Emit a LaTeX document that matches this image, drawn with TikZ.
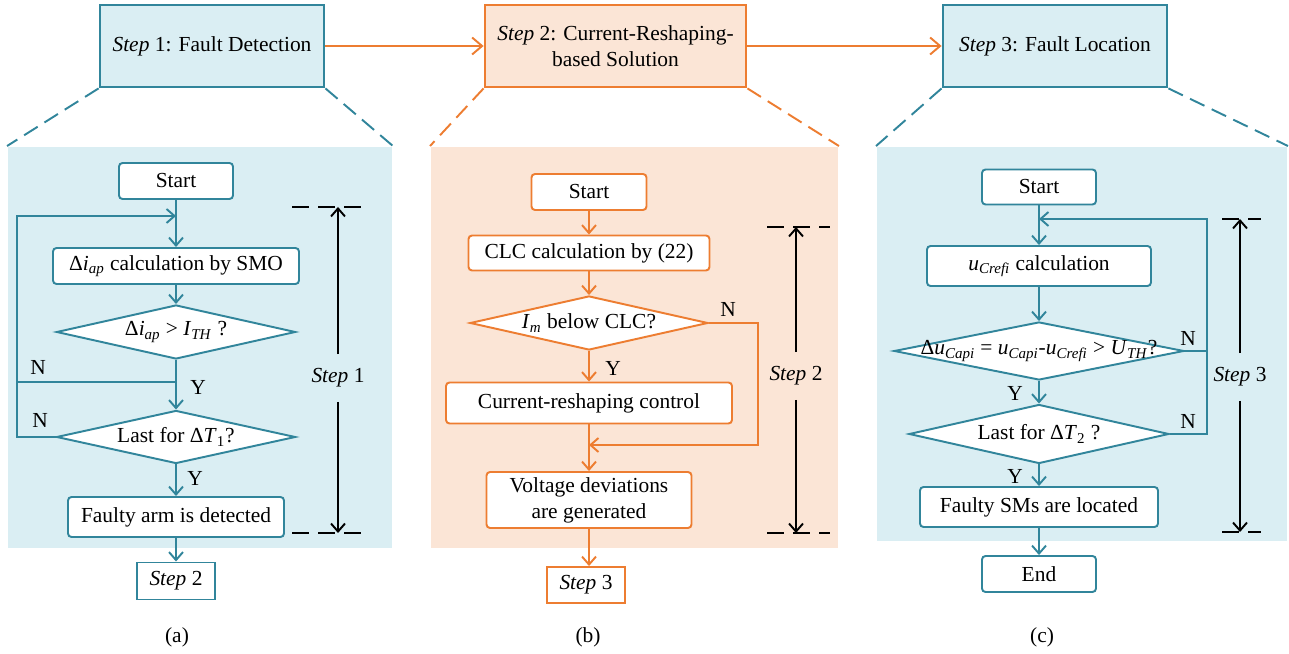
\documentclass[tikz,border=0pt]{standalone}
\usepackage{fontspec}
\setmainfont{Liberation Serif}
\usepackage{xcolor}
\usepackage{tikz}
\usetikzlibrary{arrows.meta, positioning, shapes.geometric, calc}

\definecolor{tealline}{RGB}{49,133,155}
\definecolor{tealfill}{RGB}{218,238,243}
\definecolor{orangeline}{RGB}{237,125,49}
\definecolor{orangefill}{RGB}{251,229,214}

\newcommand{\stp}[1]{\textit{Step} #1}
\newcommand{\vsub}[2]{\textit{#1}\textsubscript{\textit{#2}}}

\begin{document}
\begin{tikzpicture}[>={Straight Barb[length=1.6mm, width=2.8mm]},
  font=\fontsize{12.2}{14.8}\selectfont, line width=1.1pt,
  topbox/.style={draw=#1, line width=1.6pt, inner sep=0pt, align=center},
  panel/.style={inner sep=0pt, draw=none},
  proc/.style={draw=#1, fill=white, rounded corners=2pt, inner sep=0pt, align=center},
  nextstep/.style={draw=#1, fill=white, inner sep=0pt},
  decision/.style={diamond, draw=#1, fill=white, inner sep=0pt},
  flow/.style={#1, ->},
  zoomline/.style={#1, dash pattern=on 0.32cm off 0.16cm},
  span/.style={black, dash pattern=on 0.34cm off 0.18cm},
  tag/.style={inner sep=1pt}]
  \useasboundingbox (0,0) rectangle (25.78,13.08);

  % Step boxes on top
  \node[topbox=tealline, fill=tealfill, minimum width=4.48cm, minimum height=1.64cm] (s1) at (4.24,12.16) {\stp{1}: Fault Detection};
  \node[topbox=orangeline, fill=orangefill, minimum width=5.22cm, minimum height=1.64cm] (s2) at (12.31,12.16) {\stp{2}: Current-Reshaping-\\based Solution};
  \node[topbox=tealline, fill=tealfill, minimum width=4.48cm, minimum height=1.64cm] (s3) at (21.10,12.16) {\stp{3}: Fault Location};
  \draw[orangeline, -{Straight Barb[length=2mm, width=3.4mm]}] (s1) -- (s2);
  \draw[orangeline, -{Straight Barb[length=2mm, width=3.4mm]}] (s2) -- (s3);

  % Panels
  \node[panel, fill=tealfill, minimum width=7.68cm, minimum height=8.02cm] (pa) at (4.00,6.13) {};
  \node[panel, fill=orangefill, minimum width=8.14cm, minimum height=8.02cm] (pb) at (12.69,6.13) {};
  \node[panel, fill=tealfill, minimum width=8.20cm, minimum height=7.88cm] (pc) at (21.64,6.20) {};

  \draw[zoomline=tealline] (s1.south west) -- (pa.north west);
  \draw[zoomline=tealline] (s1.south east) -- (pa.north east);
  \draw[zoomline=orangeline] (s2.south west) -- (pb.north west);
  \draw[zoomline=orangeline] (s2.south east) -- (pb.north east);
  \draw[zoomline=tealline] (s3.south west) -- (pc.north west);
  \draw[zoomline=tealline] (s3.south east) -- (pc.north east);

  % (a) fault detection
  \node[proc=tealline, minimum width=2.28cm, minimum height=0.72cm] (a_start) at (3.52,9.46) {Start};
  \node[proc=tealline, minimum width=4.92cm, minimum height=0.72cm] (a_calc) at (3.52,7.76) {Δ\vsub{i}{ap} calculation by SMO};
  \node[decision=tealline, minimum width=4.78cm, minimum height=1.08cm,
        label=center:{Δ\vsub{i}{ap} > \vsub{I}{TH} ?}] (a_d1) at (3.52,6.44) {};
  \node[decision=tealline, minimum width=4.78cm, minimum height=1.06cm,
        label=center:{Last for Δ\textit{T}\textsubscript{1}?}] (a_d2) at (3.52,4.34) {};
  \node[proc=tealline, minimum width=4.32cm, minimum height=0.80cm] (a_det) at (3.52,2.74) {Faulty arm is detected};
  \node[nextstep=tealline, minimum width=1.56cm, minimum height=0.74cm] (a_next) at (3.52,1.46) {\stp{2}};
  \node (a_cap) at (3.54,0.34) {(a)};

  \coordinate (a_j1) at (3.52,5.44);
  \coordinate (a_j2) at (3.52,8.76);
  \coordinate (a_loop) at (0.34,8.76);

  \draw[flow=tealline] (a_start) -- (a_calc);
  \draw[flow=tealline] (a_calc) -- (a_d1);
  \draw[flow=tealline] (a_d1) -- (a_d2);
  \draw[flow=tealline] (a_d2) -- (a_det);
  \draw[flow=tealline] (a_det) -- (a_next);
  \draw[flow=tealline] (a_d2.west) -| (a_loop) -- (a_j2);
  \draw[tealline] (a_j1) -- (a_j1 -| a_loop);

  \node[tag] (a_n1) at (0.76,5.74) {N};
  \node[tag] (a_n2) at (0.80,4.68) {N};
  \node[tag] (a_y1) at (3.96,5.34) {Y};
  \node[tag] (a_y2) at (3.90,3.52) {Y};

  % span of step 1
  \node[minimum height=0.92cm, inner sep=0pt] (a_span) at (6.76,5.52) {\stp{1}};
  \coordinate (a_top) at (6.76,8.94);
  \coordinate (a_bot) at (6.76,2.42);
  \draw[span] (5.84,8.94) -- (7.38,8.94);
  \draw[span] (5.84,2.42) -- (7.38,2.42);
  \draw[->] (a_span) -- (a_top);
  \draw[->] (a_span) -- (a_bot);

  % (b) current reshaping
  \node[proc=orangeline, minimum width=2.30cm, minimum height=0.72cm] (b_start) at (11.78,9.24) {Start};
  \node[proc=orangeline, minimum width=4.82cm, minimum height=0.70cm] (b_clc) at (11.78,8.02) {CLC calculation by (22)};
  \node[decision=orangeline, minimum width=4.76cm, minimum height=1.08cm,
        label=center:{\textit{I}\textsubscript{\textit{m}} below CLC?}] (b_d) at (11.78,6.62) {};
  \node[proc=orangeline, minimum width=5.72cm, minimum height=0.82cm] (b_ctrl) at (11.78,5.02) {Current-reshaping control};
  \node[proc=orangeline, minimum width=4.10cm, minimum height=1.12cm] (b_volt) at (11.78,3.08) {Voltage deviations\\are generated};
  \node[nextstep=orangeline, minimum width=1.56cm, minimum height=0.72cm] (b_next) at (11.72,1.38) {\stp{3}};
  \node (b_cap) at (11.76,0.34) {(b)};

  \coordinate (b_j) at (11.78,4.18);
  \coordinate (b_side) at (15.16,4.18);

  \draw[flow=orangeline] (b_start) -- (b_clc);
  \draw[flow=orangeline] (b_clc) -- (b_d);
  \draw[flow=orangeline] (b_d) -- (b_ctrl);
  \draw[flow=orangeline] (b_ctrl) -- (b_volt);
  \draw[flow=orangeline] (b_volt.south) -- (b_volt.south |- b_next.north);
  \draw[flow=orangeline] (b_d.east) -| (b_side) -- (b_j);

  \node[tag] (b_n) at (14.56,6.90) {N};
  \node[tag] (b_y) at (12.26,5.72) {Y};

  % span of step 2
  \node[minimum height=0.92cm, inner sep=0pt] (b_span) at (15.92,5.56) {\stp{2}};
  \coordinate (b_top) at (15.92,8.54);
  \coordinate (b_bot) at (15.92,2.42);
  \draw[span] (15.34,8.54) -- (16.60,8.54);
  \draw[span] (15.34,2.42) -- (16.60,2.42);
  \draw[->] (b_span) -- (b_top);
  \draw[->] (b_span) -- (b_bot);

  % (c) fault location
  \node[proc=tealline, minimum width=2.28cm, minimum height=0.70cm] (c_start) at (20.78,9.34) {Start};
  \node[proc=tealline, minimum width=4.48cm, minimum height=0.80cm] (c_calc) at (20.78,7.76) {\vsub{u}{Crefi} calculation};
  \node[decision=tealline, minimum width=5.80cm, minimum height=1.16cm,
        label=center:{Δ\vsub{u}{Capi} = \vsub{u}{Capi}-\vsub{u}{Crefi} > \vsub{U}{TH}?}] (c_d1) at (20.78,6.06) {};
  \node[decision=tealline, minimum width=5.20cm, minimum height=1.18cm,
        label=center:{Last for Δ\textit{T}\textsubscript{2} ?}] (c_d2) at (20.78,4.40) {};
  \node[proc=tealline, minimum width=4.76cm, minimum height=0.80cm] (c_loc) at (20.78,2.94) {Faulty SMs are located};
  \node[proc=tealline, minimum width=2.28cm, minimum height=0.72cm] (c_end) at (20.78,1.60) {End};
  \node (c_cap) at (20.84,0.34) {(c)};

  \coordinate (c_j) at (20.78,8.70);
  \coordinate (c_loop) at (24.14,8.70);

  \draw[flow=tealline] (c_start) -- (c_calc);
  \draw[flow=tealline] (c_calc) -- (c_d1);
  \draw[flow=tealline] (c_d1) -- (c_d2);
  \draw[flow=tealline] (c_d2) -- (c_loc);
  \draw[flow=tealline] (c_loc) -- (c_end);
  \draw[flow=tealline] (c_d2.east) -| (c_loop) -- (c_j);
  \draw[tealline] (c_d1.east) -- (c_d1.east -| c_loop);

  \node[tag] (c_n1) at (23.76,6.32) {N};
  \node[tag] (c_n2) at (23.76,4.66) {N};
  \node[tag] (c_y1) at (20.30,5.22) {Y};
  \node[tag] (c_y2) at (20.30,3.56) {Y};

  % span of step 3
  \node[minimum height=0.92cm, inner sep=0pt] (c_span) at (24.80,5.54) {\stp{3}};
  \coordinate (c_top) at (24.80,8.70);
  \coordinate (c_bot) at (24.80,2.44);
  \draw[span] (24.44,8.70) -- (25.22,8.70);
  \draw[span] (24.44,2.44) -- (25.22,2.44);
  \draw[->] (c_span) -- (c_top);
  \draw[->] (c_span) -- (c_bot);
\end{tikzpicture}
\end{document}
